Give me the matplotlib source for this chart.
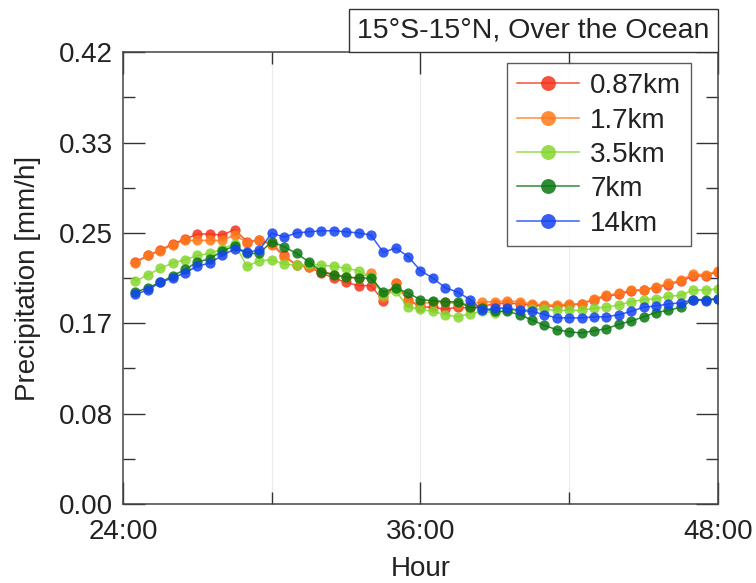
import numpy as np
import matplotlib
matplotlib.use('Agg')
import matplotlib.pyplot as plt
from matplotlib.ticker import MultipleLocator, FixedLocator

plt.rcParams['font.family'] = ['Liberation Sans', 'DejaVu Sans']

# half-hourly time axis, 24.5 .. 48
hours = np.arange(24.5, 48.01, 0.5)

p087 = [0.225, 0.231, 0.236, 0.242, 0.246, 0.251, 0.251, 0.250, 0.255, 0.244, 0.245, 0.242,
        0.231, 0.222, 0.220, 0.215, 0.210, 0.206, 0.203, 0.203, 0.189, 0.205, 0.190, 0.183,
        0.183, 0.181, 0.183, 0.182, 0.184, 0.186, 0.187, 0.186, 0.185, 0.184, 0.184, 0.185,
        0.186, 0.190, 0.193, 0.195, 0.198, 0.199, 0.201, 0.204, 0.207, 0.212, 0.212, 0.216]
p17 = [0.224, 0.231, 0.235, 0.241, 0.245, 0.245, 0.245, 0.245, 0.250, 0.243, 0.245, 0.241,
       0.230, 0.222, 0.220, 0.217, 0.213, 0.211, 0.210, 0.215, 0.192, 0.205, 0.188, 0.186,
       0.188, 0.188, 0.186, 0.186, 0.188, 0.188, 0.189, 0.188, 0.186, 0.185, 0.185, 0.186,
       0.186, 0.191, 0.194, 0.196, 0.199, 0.199, 0.202, 0.205, 0.208, 0.214, 0.213, 0.217]
p35 = [0.207, 0.213, 0.219, 0.224, 0.227, 0.231, 0.233, 0.237, 0.242, 0.221, 0.226, 0.227,
       0.223, 0.222, 0.223, 0.222, 0.221, 0.219, 0.217, 0.211, 0.194, 0.198, 0.183, 0.181,
       0.179, 0.176, 0.174, 0.177, 0.179, 0.178, 0.180, 0.180, 0.181, 0.181, 0.180, 0.180,
       0.180, 0.182, 0.183, 0.185, 0.188, 0.190, 0.191, 0.193, 0.194, 0.199, 0.199, 0.200]
p7 = [0.197, 0.201, 0.206, 0.212, 0.218, 0.225, 0.228, 0.235, 0.240, 0.233, 0.233, 0.244,
      0.239, 0.233, 0.225, 0.216, 0.213, 0.211, 0.210, 0.210, 0.197, 0.201, 0.196, 0.190,
      0.189, 0.188, 0.188, 0.183, 0.182, 0.179, 0.179, 0.176, 0.171, 0.166, 0.162, 0.160,
      0.159, 0.161, 0.163, 0.167, 0.170, 0.174, 0.178, 0.180, 0.183, 0.190, 0.190, 0.191]
p14 = [0.195, 0.199, 0.206, 0.210, 0.215, 0.221, 0.224, 0.231, 0.237, 0.234, 0.236, 0.252,
       0.248, 0.252, 0.253, 0.254, 0.254, 0.253, 0.252, 0.250, 0.234, 0.238, 0.230, 0.217,
       0.210, 0.201, 0.197, 0.190, 0.180, 0.182, 0.182, 0.180, 0.179, 0.176, 0.173, 0.173,
       0.173, 0.174, 0.174, 0.176, 0.179, 0.183, 0.184, 0.186, 0.187, 0.190, 0.189, 0.191]

labels = ['0.87km', '1.7km', '3.5km', '7km', '14km']
colors = ['#f5321a', '#ff7a1a', '#84d62e', '#0a7812', '#1444f2']
series = [p087, p17, p35, p7, p14]

fig = plt.figure(figsize=(7.56, 5.83), dpi=100)
ax = fig.add_axes([0.1627, 0.1355, 0.787, 0.775])

for y, c, lab in zip(series, colors, labels):
    ax.plot(hours, y, color=c, lw=1.1, alpha=0.85, marker='o', ms=7.4,
            mfc=c, mec=c, mew=0, label=lab)

ax.set_xlim(24, 48)
ax.set_ylim(0, 0.42)
ax.xaxis.set_major_locator(FixedLocator([24, 36, 48]))
ax.xaxis.set_minor_locator(FixedLocator([30, 42]))
ax.set_xticklabels(['24:00', '36:00', '48:00'])
ax.yaxis.set_major_locator(FixedLocator([0, 0.084, 0.168, 0.252, 0.336, 0.42]))
ax.yaxis.set_minor_locator(MultipleLocator(0.042))
ax.set_yticklabels(['0.00', '0.08', '0.17', '0.25', '0.33', '0.42'])

for xv in [30, 36, 42]:
    ax.axvline(xv, color='#ececec', lw=0.8, zorder=0)

ax.tick_params(which='both', direction='in', top=True, right=True,
               color='#333333', width=1.0, labelsize=20, labelcolor='#222222')
ax.tick_params(which='major', length=16)
ax.tick_params(which='minor', length=8.5)
ax.tick_params(axis='x', pad=11)
ax.tick_params(axis='y', pad=7)
for s in ax.spines.values():
    s.set_color('#444444')
    s.set_linewidth(1.1)

ax.set_xlabel('Hour', fontsize=20, labelpad=8, color='#222222')
ax.set_ylabel('Precipitation [mm/h]', fontsize=20, labelpad=13, color='#222222')

leg = ax.legend(loc='upper right', bbox_to_anchor=(0.955, 0.975), fontsize=20,
                frameon=True, fancybox=False, edgecolor='#333333',
                handlelength=2.25, markerscale=1.45, labelspacing=0.3,
                borderpad=0.35, handletextpad=0.4, borderaxespad=0.0)
leg.get_frame().set_linewidth(1.0)
for t in leg.get_texts():
    t.set_color('#222222')

# title box sits on top of the axes, right-aligned with the frame
pad_px = 0.3 * 20.5 * 100 / 72
ax.text(1.0 - pad_px / 595, 1.0 + pad_px / 452, '15°S-15°N, Over the Ocean',
        transform=ax.transAxes, ha='right', va='bottom', fontsize=20.5, color='#222222',
        bbox=dict(boxstyle='square,pad=0.3', fc='white', ec='#333333', lw=1.0))

fig.savefig('out.png', dpi=100)
